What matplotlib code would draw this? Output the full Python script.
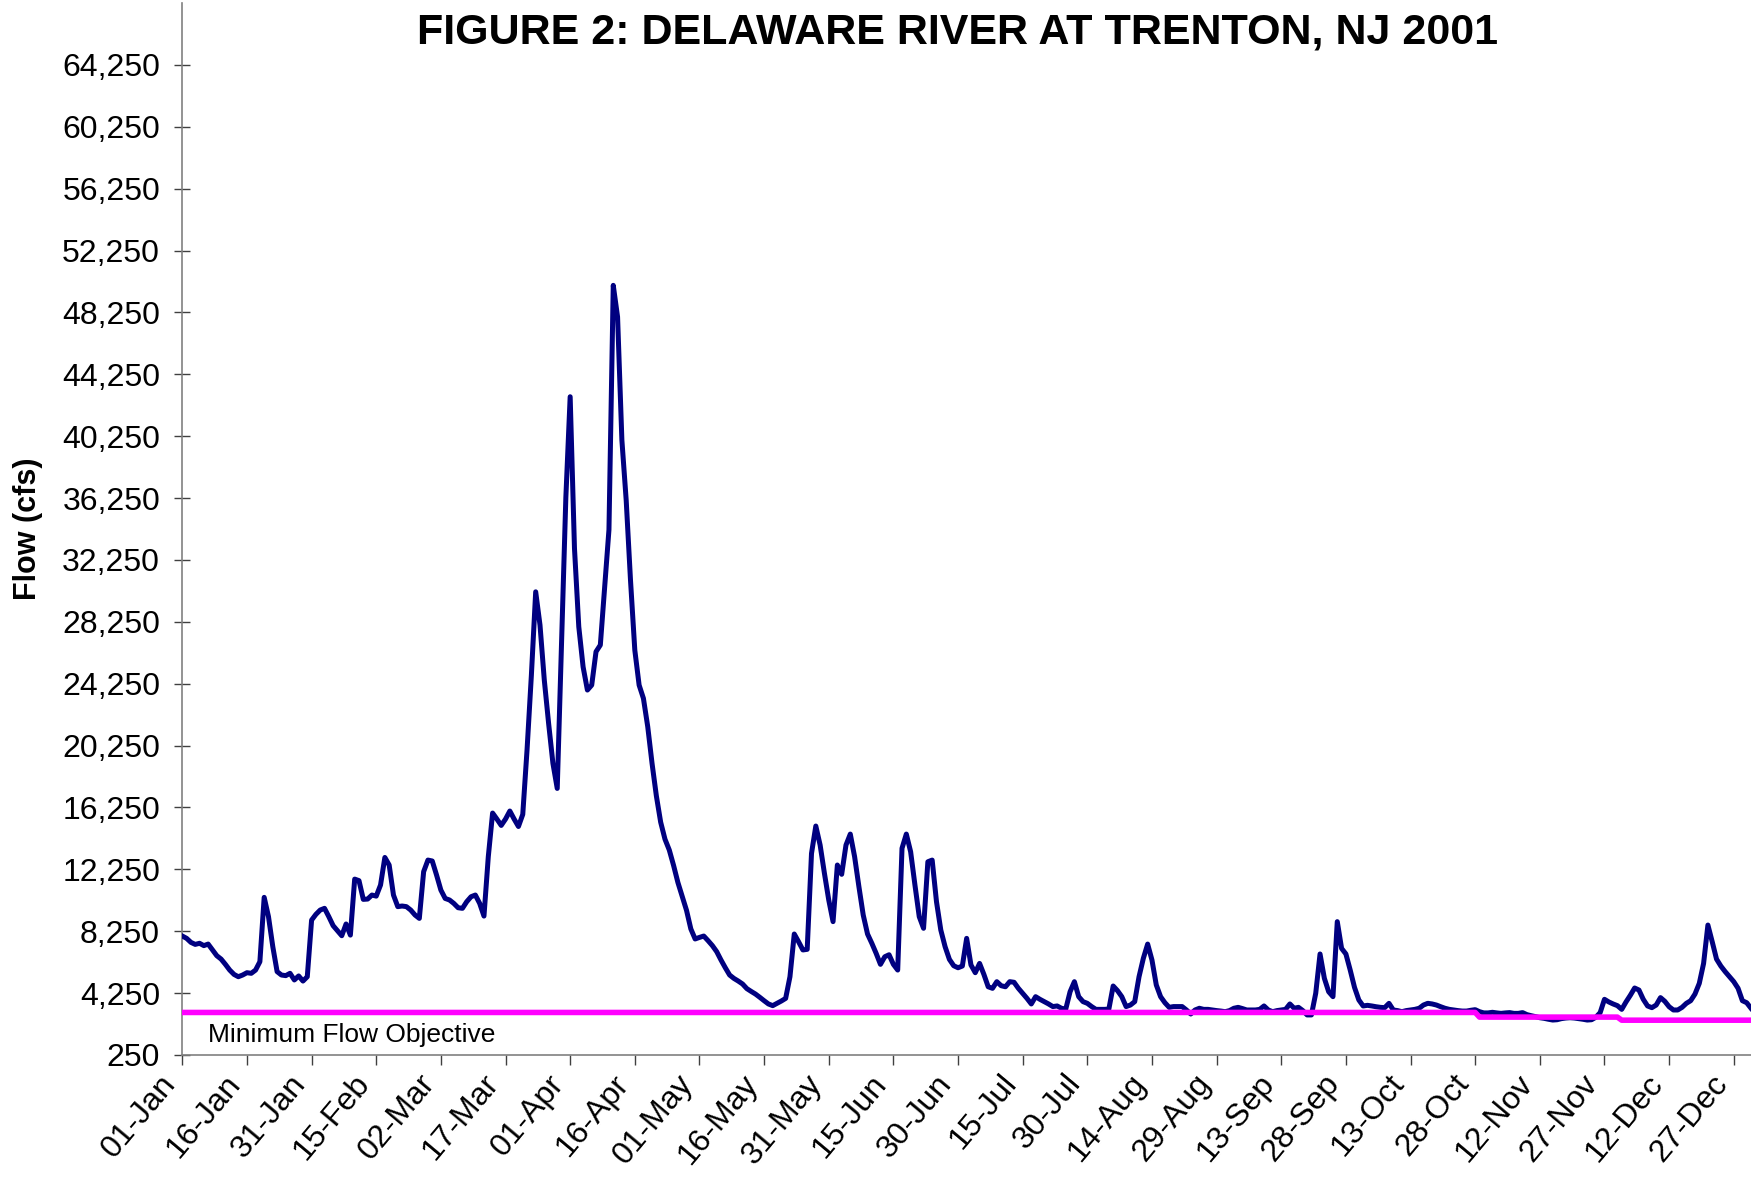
import numpy as np
import matplotlib.pyplot as plt
from matplotlib.ticker import FuncFormatter

plt.rcParams['font.family'] = ['Liberation Sans', 'DejaVu Sans']

# daily mean flow at Trenton, cfs (01-Jan .. 31-Dec 2001)
flow = [
    # Jan
    7940, 7790, 7530, 7400, 7470, 7320, 7420, 7040, 6670, 6450,
    6110, 5740, 5460, 5310, 5420, 5570, 5530, 5740, 6280, 10440,
    9190, 7250, 5640, 5420, 5380, 5530, 5100, 5360, 5030, 5310,
    8970,
    # Feb
    9340, 9620, 9730, 9190, 8610, 8280, 7960, 8720, 8000, 11620,
    11520, 10310, 10330, 10590, 10520, 11240, 13020, 12530, 10590, 9840,
    9880, 9840, 9620, 9300, 9080, 12100, 12850, 12790,
    # Mar
    11880, 10910, 10370, 10270, 10050, 9770, 9730, 10160, 10480, 10590,
    10050, 9230, 13060, 15890, 15500, 15090, 15500, 16020, 15500, 15020,
    15800, 20000, 24800, 30190, 28040, 24480, 21680, 19100, 17480, 27000,
    36300,
    # Apr
    42800, 33000, 27930, 25340, 23840, 24160, 26320, 26750, 30500, 34200,
    50000, 47960, 40000, 36110, 30940, 26420, 24160, 23300, 21470, 19100,
    17000, 15300, 14200, 13500, 12500, 11400, 10500, 9600, 8400, 7750,
    # May
    7850, 7940, 7640, 7320, 6930, 6390, 5890, 5420, 5200, 5030,
    4840, 4540, 4360, 4190, 3980, 3760, 3550, 3440, 3590, 3740,
    3910, 5310, 8070, 7570, 7040, 7080, 13280, 15050, 13820, 11990,
    10270,
    # Jun
    8870, 12530, 11930, 13820, 14530, 13070, 11130, 9300, 8070, 7470,
    6820, 6110, 6600, 6730, 6110, 5740, 13610, 14530, 13390, 11240,
    9190, 8440, 12740, 12850, 10160, 8330, 7250, 6430, 6020, 5890,
    # Jul
    6000, 7790, 6070, 5570, 6170, 5460, 4660, 4560, 4990, 4730,
    4660, 4990, 4950, 4560, 4240, 3910, 3550, 4020, 3850, 3700,
    3550, 3380, 3420, 3270, 3220, 4340, 4990, 4020, 3700, 3590,
    3380,
    # Aug
    3200, 3200, 3200, 3220, 4710, 4410, 4020, 3380, 3480, 3700,
    5310, 6500, 7420, 6390, 4780, 4020, 3630, 3330, 3380, 3380,
    3380, 3160, 2900, 3160, 3270, 3200, 3200, 3160, 3120, 3090,
    3050,
    # Sep
    3120, 3270, 3330, 3250, 3160, 3160, 3160, 3200, 3420, 3160,
    3050, 3120, 3160, 3200, 3550, 3270, 3330, 3120, 2840, 2840,
    4240, 6780, 5210, 4340, 4020, 8870, 7140, 6780, 5740, 4620,
    # Oct
    3810, 3420, 3460, 3420, 3370, 3330, 3310, 3590, 3160, 3120,
    3050, 3120, 3160, 3200, 3270, 3480, 3590, 3550, 3480, 3370,
    3270, 3200, 3160, 3120, 3090, 3090, 3140, 3180, 3050, 2970,
    2970,
    # Nov
    3010, 2970, 2940, 2970, 2990, 2940, 2940, 2990, 2860, 2790,
    2730, 2660, 2620, 2560, 2510, 2530, 2600, 2640, 2660, 2640,
    2600, 2560, 2510, 2530, 2690, 2990, 3850, 3680, 3550, 3440,
    # Dec
    3200, 3680, 4110, 4580, 4450, 3850, 3420, 3310, 3480, 3960,
    3720, 3370, 3160, 3160, 3330, 3590, 3760, 4190, 4880, 6170,
    8650, 7570, 6450, 6000, 5640, 5310, 4990, 4560, 3760, 3630,
    3270,
]

# minimum flow objective (cfs) and the day it starts
objective_levels = [3000, 2700, 2500]
objective_start = [0, 301, 334]

tick_labels = ['01-Jan', '16-Jan', '31-Jan', '15-Feb', '02-Mar', '17-Mar', '01-Apr',
               '16-Apr', '01-May', '16-May', '31-May', '15-Jun', '30-Jun', '15-Jul',
               '30-Jul', '14-Aug', '29-Aug', '13-Sep', '28-Sep', '13-Oct', '28-Oct',
               '12-Nov', '27-Nov', '12-Dec', '27-Dec']

days = np.arange(len(flow))
counts = np.diff(objective_start + [len(flow)])
objective = np.repeat(objective_levels, counts)

fig = plt.figure(figsize=(17.51, 11.84), dpi=100)
ax = fig.add_axes([182.3 / 1751, 129 / 1184, 1 - 182.3 / 1751, 1052 / 1184])

ax.plot(days, flow, color='#000080', lw=3.6, solid_joinstyle='round', zorder=3)
ax.plot(days, objective, color='#FF00FF', lw=4.0, zorder=4)

ax.set_xlim(0, 364)
ax.set_ylim(250, 68250)
ax.set_yticks(np.arange(250, 64251, 4000))
ax.yaxis.set_major_formatter(FuncFormatter(lambda v, p: '{:,.0f}'.format(v)))
ax.set_xticks(np.arange(0, 365, 15))
ax.set_xticklabels(tick_labels, rotation=50, ha='right', rotation_mode='default')

for s in ['top', 'right']:
    ax.spines[s].set_visible(False)
for s in ['left', 'bottom']:
    ax.spines[s].set_color('#808080')
    ax.spines[s].set_linewidth(1.2)

ax.tick_params(axis='y', direction='inout', length=12, width=1, color='#404040',
               labelsize=23, pad=10)
ax.tick_params(axis='x', direction='out', length=7, width=1, color='#404040',
               labelsize=23, pad=3)
for lab in ax.get_xticklabels():
    lab.set_x(lab.get_position()[0])

ax.text(0.0164, 0.019, 'Minimum Flow Objective', transform=ax.transAxes,
        ha='left', va='center', fontsize=19)

fig.text(958 / 1751, 1 - 32 / 1184, 'FIGURE 2: DELAWARE RIVER AT TRENTON, NJ 2001',
         ha='center', va='center', fontsize=31, fontweight='bold')
fig.text(28 / 1751, 1 - 529 / 1184, 'Flow (cfs)', rotation=90,
         ha='center', va='center', fontsize=22, fontweight='bold')

fig.savefig('out.png', dpi=100)
